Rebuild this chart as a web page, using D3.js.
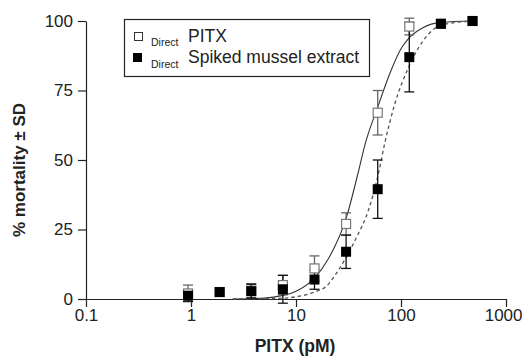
<!DOCTYPE html>
<html>
<head>
<meta charset="utf-8">
<script src="https://cdn.jsdelivr.net/npm/d3@7/dist/d3.min.js"></script>
<style>
  html, body { margin: 0; padding: 0; background: #fff; }
  svg { display: block; font-family: "Liberation Sans", Arial, sans-serif; }
</style>
</head>
<body>
<svg id="chart" width="523" height="357"></svg>
<script>
// ---- data ----
const doses = [0.9375, 1.875, 3.75, 7.5, 15, 30, 60, 120, 240, 480];
const pitxMean   = [2, 2.5, 3, 5, 11, 27, 67, 98, 99, 100];
const pitxSD     = [3, 0, 2.5, 3.5, 4.5, 4, 8, 3, 0, 0];
const spikedMean = [1.2, 2.5, 2.8, 3.5, 7, 17, 39.5, 87, 99, 100];
const spikedSD   = [2, 0, 2.5, 5, 3.5, 6, 10.5, 12.5, 0, 0];

// fitted curves
const fitDoseSolid = [2.5, 5, 7.5, 10, 15, 20, 30, 40, 45, 60, 80, 100, 120, 160, 240, 480];
const fitPitx      = [0, 0.3, 1.3, 2.8, 7.5, 14, 29, 47, 55, 69, 82, 90, 94, 97.5, 99.5, 100];
const fitDoseDash  = [2.5, 7.5, 10, 15, 20, 23, 29, 37.5, 49, 60, 70, 87, 117, 180, 240, 480];
const fitSpiked    = [0, 0.3, 0.8, 2.5, 5, 8, 14, 22, 32, 44, 56, 70, 83, 95, 98.5, 100];

const xTicks = [0.1, 1, 10, 100, 1000];
const xTickLabels = ["0.1", "1", "10", "100", "1000"];
const yTicks = [0, 25, 50, 75, 100];

const legendLabels = ["PITX", "Spiked mussel extract"];
const legendPrefix = "Direct";

// ---- chart ----
const svg = d3.select("#chart");
const x = d3.scaleLog().domain([0.1, 1000]).range([86, 506]);
const y = d3.scaleLinear().domain([0, 100]).range([299, 21]);

// axes
const yAxis = d3.axisLeft(y).tickValues(yTicks).tickSize(8).tickPadding(5).tickSizeOuter(0);
const gy = svg.append("g").attr("transform", "translate(86,0)").call(yAxis);
const xAxis = d3.axisBottom(x).tickValues(xTicks)
  .tickFormat((d, i) => xTickLabels[i]).tickSize(8).tickPadding(2).tickSizeOuter(0);
const gx = svg.append("g").attr("transform", "translate(0,299)").call(xAxis);
[gx, gy].forEach(g => {
  g.selectAll("path.domain").attr("stroke", "#222").attr("stroke-width", 1.2);
  g.selectAll(".tick line").attr("stroke", "#222").attr("stroke-width", 1.2);
  g.selectAll(".tick text").attr("fill", "#222").attr("font-size", 17)
    .attr("font-family", "Liberation Sans, Arial, sans-serif");
});
// keep the last x label inside the window
gx.selectAll(".tick text").filter(d => d === 1000).attr("text-anchor", "end").attr("dx", 16);

// axis titles
svg.append("text")
  .attr("transform", "translate(25,170) rotate(-90)")
  .attr("text-anchor", "middle")
  .attr("font-size", 17).attr("font-weight", "bold").attr("fill", "#222")
  .text("% mortality ± SD");
svg.append("text")
  .attr("x", 295).attr("y", 352)
  .attr("text-anchor", "middle")
  .attr("font-size", 17.5).attr("font-weight", "bold").attr("fill", "#222")
  .text("PITX (pM)");

// curves
const line = d3.line().curve(d3.curveMonotoneX);
svg.append("path")
  .attr("d", line(fitDoseSolid.map((d, i) => [x(d), y(fitPitx[i])])))
  .attr("fill", "none").attr("stroke", "#333").attr("stroke-width", 1.1);
svg.append("path")
  .attr("d", line(fitDoseDash.map((d, i) => [x(d), y(fitSpiked[i])])))
  .attr("fill", "none").attr("stroke", "#555").attr("stroke-width", 1.3)
  .attr("stroke-dasharray", "3.5,3");

// error bars
function errorBars(means, sds, color) {
  const g = svg.append("g").attr("stroke", color).attr("stroke-width", 1.3);
  doses.forEach((d, i) => {
    if (!sds[i]) return;
    const cx = x(d), y1 = y(means[i] + sds[i]), y2 = y(means[i] - sds[i]);
    g.append("line").attr("x1", cx).attr("x2", cx).attr("y1", y1).attr("y2", y2);
    g.append("line").attr("x1", cx - 5).attr("x2", cx + 5).attr("y1", y1).attr("y2", y1);
    g.append("line").attr("x1", cx - 5).attr("x2", cx + 5).attr("y1", y2).attr("y2", y2);
  });
}
errorBars(pitxMean, pitxSD, "#666");
errorBars(spikedMean, spikedSD, "#111");

// markers
svg.append("g").selectAll("rect").data(doses).join("rect")
  .attr("x", d => x(d) - 4.5).attr("y", (d, i) => y(pitxMean[i]) - 4.5)
  .attr("width", 9).attr("height", 9)
  .attr("fill", "#fff").attr("stroke", "#777").attr("stroke-width", 1.2);
svg.append("g").selectAll("rect").data(doses).join("rect")
  .attr("x", d => x(d) - 5).attr("y", (d, i) => y(spikedMean[i]) - 5)
  .attr("width", 10).attr("height", 10)
  .attr("fill", "#000");

// legend
svg.append("rect").attr("x", 124.5).attr("y", 19.5).attr("width", 245).attr("height", 57)
  .attr("fill", "#fff").attr("stroke", "#222").attr("stroke-width", 1.2);
svg.append("rect").attr("x", 134.5).attr("y", 32.5).attr("width", 8).attr("height", 8)
  .attr("fill", "#fff").attr("stroke", "#333").attr("stroke-width", 1);
svg.append("rect").attr("x", 133).attr("y", 53).attr("width", 9).attr("height", 9)
  .attr("fill", "#000");
[[0, 42, 46], [1, 63, 68]].forEach(([i, by, sy]) => {
  svg.append("text").attr("x", 151).attr("y", sy).attr("font-size", 10.5).attr("fill", "#222")
    .text(legendPrefix);
  svg.append("text").attr("x", 188).attr("y", by).attr("font-size", 17.5).attr("fill", "#222")
    .text(legendLabels[i]);
});
</script>
</body>
</html>
